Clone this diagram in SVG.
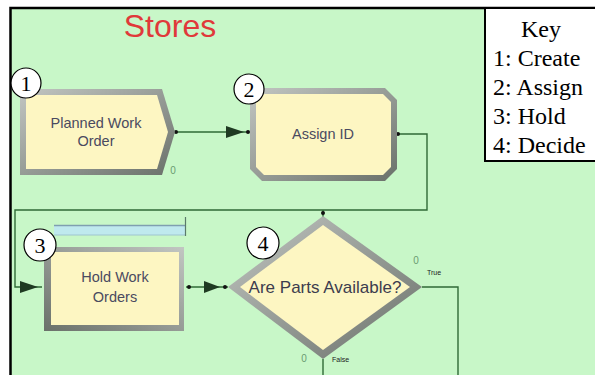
<svg xmlns="http://www.w3.org/2000/svg" width="595" height="375" viewBox="0 0 595 375">
  <defs>
    <style>
      .conn { fill: none; stroke: #2f6a36; stroke-width: 1.4; }
      .ah { fill: #1f3a22; }
      .dot { fill: #111; }
      .lbl { font-family: "Liberation Sans", Arial, sans-serif; font-size: 14.5px; fill: #4a4a60; text-anchor: middle; }
      .num { font-family: "Liberation Serif", "Times New Roman", serif; font-size: 22px; fill: #000; text-anchor: middle; }
      .badge { fill: #fff; stroke: #000; stroke-width: 1.2; }
      .key { font-family: "Liberation Serif", "Times New Roman", serif; font-size: 24px; fill: #000; }
      .inner { fill: #fdf6c2; }
      .zero { font-family: "Liberation Sans", Arial, sans-serif; font-size: 10px; fill: #6a9a72; text-anchor: middle; }
      .tf { font-family: "Liberation Sans", Arial, sans-serif; font-size: 7px; fill: #222; }
    </style>
    <linearGradient id="bevel" x1="0" y1="0" x2="1" y2="1">
      <stop offset="0" stop-color="#c2c6c2"/>
      <stop offset="1" stop-color="#6a716a"/>
    </linearGradient>
    <linearGradient id="bevelHold" x1="1" y1="0" x2="0" y2="1">
      <stop offset="0" stop-color="#c2c6c2"/>
      <stop offset="1" stop-color="#6a716a"/>
    </linearGradient>
  </defs>

  <rect x="0" y="0" width="595" height="375" fill="#ffffff"/>
  <rect x="10" y="8" width="590" height="372" fill="#c8f7c8"/>
  <path d="M10.5,375 V8 H595" fill="none" stroke="#000" stroke-width="2.5"/>

  <text x="170" y="37" font-family="Liberation Sans, Arial, sans-serif" font-size="32" fill="#e0393a" text-anchor="middle">Stores</text>

  <g id="key">
    <rect x="485" y="8" width="115" height="153" fill="#fff" stroke="#000" stroke-width="2"/>
    <text class="key" x="541" y="37" text-anchor="middle">Key</text>
    <text class="key" x="493" y="66">1: Create</text>
    <text class="key" x="493" y="95">2: Assign</text>
    <text class="key" x="493" y="124">3: Hold</text>
    <text class="key" x="493" y="153">4: Decide</text>
  </g>

  <g id="connectors">
    <path class="conn" d="M175,132 H249"/>
    <polygon class="ah" points="226,126 244,132 226,138"/>
    <circle class="dot" cx="176" cy="132" r="2"/>
    <circle class="dot" cx="248" cy="132" r="2"/>

    <path class="conn" d="M397,134 H427 V210 H15 V287 H42"/>
    <polygon class="ah" points="20,281 38,287 20,293"/>
    <circle class="dot" cx="398" cy="134" r="2"/>

    <path class="conn" d="M323,210 V217"/>
    <circle class="dot" cx="323" cy="213" r="2"/>

    <path class="conn" d="M186,287 H228"/>
    <polygon class="ah" points="204,281 220,287 204,293"/>
    <circle class="dot" cx="189" cy="287" r="2"/>
    <circle class="dot" cx="225" cy="287" r="2"/>

    <path class="conn" d="M422,287 H458 V375"/>
    <path class="conn" d="M323,359 V375"/>

    <text class="zero" x="173" y="174">0</text>
    <text class="zero" x="416" y="264">0</text>
    <text class="tf" x="427" y="275">True</text>
    <text class="zero" x="304" y="362">0</text>
    <text class="tf" x="332" y="362">False</text>
  </g>

  <g id="create">
    <polygon points="20,89 162,89 175,132 162,175 20,175" fill="url(#bevel)"/>
    <polygon class="inner" points="26,95 157,95 168,132 157,169 26,169"/>
    <text class="lbl" x="96" y="128">Planned Work</text>
    <text class="lbl" x="96" y="146">Order</text>
    <circle class="badge" cx="26" cy="83" r="15"/>
    <text class="num" x="26" y="91">1</text>
  </g>

  <g id="assign">
    <polygon points="262,88 385,88 397,100 397,169 385,181 262,181 250,169 250,100" fill="url(#bevel)"/>
    <polygon class="inner" points="264,94 383,94 391,102 391,167 383,175 264,175 256,167 256,102"/>
    <text class="lbl" x="323" y="139">Assign ID</text>
    <circle class="badge" cx="249" cy="89" r="15"/>
    <text class="num" x="249" y="97">2</text>
  </g>

  <g id="hold">
    <rect x="54" y="225" width="131" height="10" fill="#bfe9ee"/>
    <path d="M54,225.5 H185" stroke="#7f9fb0" stroke-width="1.5" fill="none"/>
    <path d="M54,235 H185" stroke="#9fc4d0" stroke-width="1" fill="none"/>
    <path d="M185.5,217 V236" stroke="#5a7a6a" stroke-width="1.2" fill="none"/>
    <rect x="44" y="247" width="140" height="84" fill="url(#bevelHold)"/>
    <rect class="inner" x="51" y="252" width="128" height="73"/>
    <text class="lbl" x="115" y="282">Hold Work</text>
    <text class="lbl" x="115" y="302">Orders</text>
    <circle class="badge" cx="40" cy="245" r="16"/>
    <text class="num" x="40" y="253">3</text>
  </g>

  <g id="decide">
    <polygon points="228,287 323,216 422,287 323,359" fill="url(#bevel)"/>
    <polygon class="inner" points="240,287 323,225 410,287 323,350"/>
    <text x="325" y="293" font-family="Liberation Sans, Arial, sans-serif" font-size="17" fill="#3c3c4e" text-anchor="middle">Are Parts Available?</text>
    <circle class="badge" cx="263" cy="243" r="16"/>
    <text class="num" x="263" y="251">4</text>
  </g>
</svg>
